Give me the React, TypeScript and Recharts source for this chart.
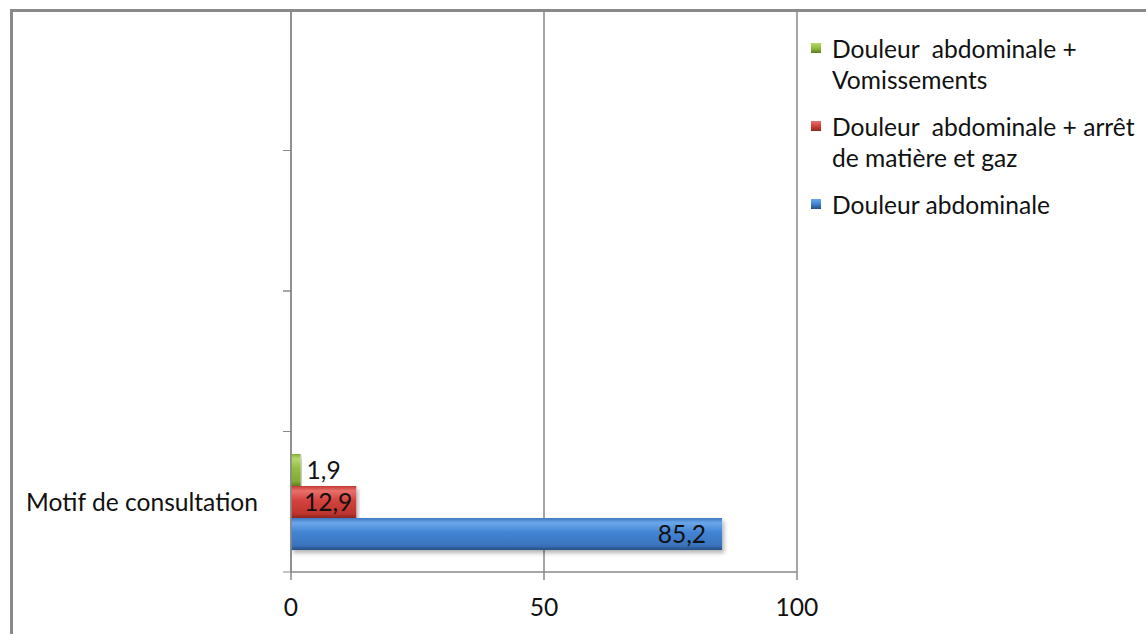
import { BarChart, Bar, XAxis, YAxis, CartesianGrid, LabelList } from 'recharts';

const CATEGORIES = ['', '', '', 'Motif de consultation'];
const DOULEUR = [null, null, null, 85.2];
const ARRET = [null, null, null, 12.9];
const VOMISSEMENTS = [null, null, null, 1.9];
const X_TICKS = [0, 50, 100];

const SERIES = [
    { key: 'vomissements', name: 'Douleur  abdominale +\nVomissements', grad: 'gGreen' },
    { key: 'arret', name: 'Douleur  abdominale + arrêt\nde matière et gaz', grad: 'gRed' },
    { key: 'douleur', name: 'Douleur abdominale', grad: 'gBlue' },
];

const DATA = CATEGORIES.map((cat, i) => ({
    idx: i,
    cat,
    douleur: DOULEUR[i],
    arret: ARRET[i],
    vomissements: VOMISSEMENTS[i],
}));

const FONT = 'Lato, "Open Sans", sans-serif';
const FS = 24.6;
const AXIS = '#898989';
const TICK_SIZE = 8;
const TICK_MARGIN = 25;

const fmt = (v: any) => (v == null ? '' : Number(v).toFixed(1).replace('.', ','));

// gradient colours: edge, highlight, main, shade, edge
const GRADS: Record<string, string[]> = {
    gBlue: ['#3f78c0', '#6aa6ea', '#4384d4', '#3a74bd', '#244f85'],
    gRed: ['#c23a35', '#e8706b', '#d4423d', '#c0352f', '#8e2420'],
    gGreen: ['#86ad38', '#b5d96a', '#94be41', '#84ab35', '#5e7d20'],
};

function CategoryTick(props: any) {
    const { x, y, payload } = props;
    const axisX = x + TICK_SIZE + TICK_MARGIN;
    const half = payload?.offset ?? 0;
    return (
        <g>
            <line x1={axisX - TICK_SIZE} x2={axisX} y1={y - half} y2={y - half} stroke={AXIS} />
            <line x1={axisX - TICK_SIZE} x2={axisX} y1={y + half} y2={y + half} stroke={AXIS} />
            <text x={x} y={y} textAnchor="end" dominantBaseline="central" fontSize={FS} fill="#111" fontFamily={FONT}>
                {CATEGORIES[payload.value]}
            </text>
        </g>
    );
}

export default function App() {
    return (
        <div style={{ position: 'absolute', left: 0, top: 0, width: 1146, height: 634, background: '#fff', overflow: 'hidden', fontFamily: FONT }}>
            <div style={{ position: 'absolute', left: 10, top: 9, width: 1146, height: 634, borderLeft: `3px solid ${AXIS}`, borderTop: `3px solid ${AXIS}` }} />
            <BarChart
                width={1146}
                height={634}
                data={DATA}
                layout="vertical"
                margin={{ top: 10, right: 349, bottom: 22, left: 11 }}
                barCategoryGap="16%"
                barGap={0}
                style={{ position: 'absolute', left: 0, top: 0 }}
            >
                <defs>
                    {Object.entries(GRADS).map(([id, c]) => (
                        <linearGradient key={id} id={id} x1="0" y1="0" x2="0" y2="1">
                            <stop offset="0%" stopColor={c[0]} />
                            <stop offset="15%" stopColor={c[1]} />
                            <stop offset="45%" stopColor={c[2]} />
                            <stop offset="85%" stopColor={c[3]} />
                            <stop offset="100%" stopColor={c[4]} />
                        </linearGradient>
                    ))}
                    <filter id="shadow" x="-5%" y="-20%" width="110%" height="160%">
                        <feDropShadow dx="2" dy="3" stdDeviation="2" floodColor="#000" floodOpacity="0.3" />
                    </filter>
                </defs>
                <CartesianGrid horizontal={false} stroke={AXIS} strokeWidth={1.5} />
                <XAxis
                    type="number"
                    domain={[0, 100]}
                    ticks={X_TICKS}
                    height={40}
                    stroke={AXIS}
                    strokeWidth={1.5}
                    tickSize={TICK_SIZE}
                    tickMargin={19}
                    tick={{ fill: '#111', fontSize: FS, fontFamily: FONT }}
                />
                <YAxis
                    type="category"
                    dataKey="idx"
                    width={280}
                    stroke={AXIS}
                    strokeWidth={1.5}
                    tickLine={false}
                    tickSize={TICK_SIZE}
                    tickMargin={TICK_MARGIN}
                    tick={<CategoryTick />}
                    interval={0}
                />
                {SERIES.map((s) => (
                    <Bar
                        key={s.key}
                        dataKey={s.key}
                        fill={`url(#${s.grad})`}
                        filter="url(#shadow)"
                        isAnimationActive={false}
                    >
                        <LabelList
                            dataKey={s.key}
                            position={s.key === 'vomissements' ? 'right' : 'insideRight'}
                            offset={s.key === 'vomissements' ? 6 : s.key === 'arret' ? 4 : 16}
                            formatter={fmt}
                            fill="#111"
                            fontSize={FS}
                            fontFamily={FONT}
                        />
                    </Bar>
                ))}
            </BarChart>
            <div style={{ position: 'absolute', left: 811, top: 33, fontSize: FS, lineHeight: '31px', color: '#111' }}>
                {SERIES.map((s) => (
                    <div key={s.key} style={{ position: 'relative', paddingLeft: 21, marginBottom: 16, whiteSpace: 'pre' }}>
                        <span
                            style={{
                                position: 'absolute',
                                left: 0,
                                top: 10,
                                width: 10,
                                height: 10,
                                background: `linear-gradient(${GRADS[s.grad][1]}, ${GRADS[s.grad][2]} 50%, ${GRADS[s.grad][4]})`,
                            }}
                        />
                        {s.name}
                    </div>
                ))}
            </div>
        </div>
    );
}
